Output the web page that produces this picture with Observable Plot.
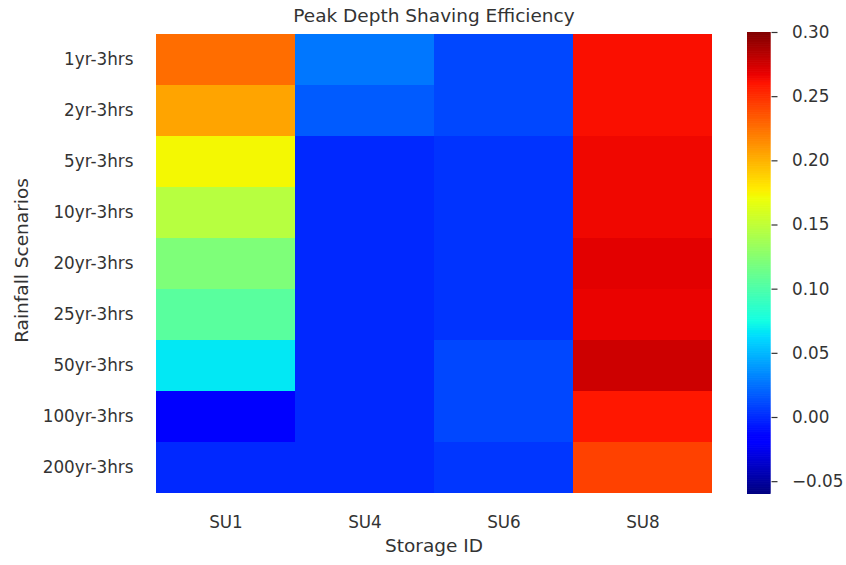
<!DOCTYPE html>
<html>
<head>
<meta charset="utf-8">
<script src="https://cdn.jsdelivr.net/npm/d3@7"></script>
<script src="https://cdn.jsdelivr.net/npm/@observablehq/plot@0.6"></script>
<style>
  html, body { margin: 0; padding: 0; background: #fff; }
  #chart { position: relative; width: 846px; height: 565px; font-family: "DejaVu Sans", sans-serif; }
  #chart svg { position: absolute; top: 0; overflow: visible; }
</style>
</head>
<body>
<div id="chart"></div>
<script>
// Rainfall scenarios (rows) and storage units (columns)
const scenarios = ["1yr-3hrs", "2yr-3hrs", "5yr-3hrs", "10yr-3hrs", "20yr-3hrs",
                   "25yr-3hrs", "50yr-3hrs", "100yr-3hrs", "200yr-3hrs"];
const storages = ["SU1", "SU4", "SU6", "SU8"];

// Peak depth shaving efficiency per storage unit, one value per scenario
const su1 = [0.226, 0.205, 0.173, 0.146, 0.121, 0.105, 0.067, -0.018, -0.001];
const su4 = [0.027, 0.017, -0.001, -0.001, -0.001, -0.001, -0.001, -0.001, -0.001];
const su6 = [0.010, 0.010, 0.003, 0.003, 0.003, 0.003, 0.010, 0.010, 0.004];
const su8 = [0.262, 0.262, 0.265, 0.265, 0.269, 0.267, 0.276, 0.259, 0.243];

// Colour bar limits and ticks
const colorDomain = [-0.06, 0.30];
const colorTicks = [-0.05, 0.00, 0.05, 0.10, 0.15, 0.20, 0.25, 0.30];

const seriesByStorage = {SU1: su1, SU4: su4, SU6: su6, SU8: su8};
const cells = storages.flatMap(s =>
  scenarios.map((sc, i) => ({storage: s, scenario: sc, value: seriesByStorage[s][i]})));

// "jet" colormap, piecewise-linear segments
function seg(points, t) {
  for (let i = 1; i < points.length; i++) {
    const [x0, y0] = points[i - 1], [x1, y1] = points[i];
    if (t <= x1) return y0 + (y1 - y0) * (t - x0) / (x1 - x0);
  }
  return points[points.length - 1][1];
}
function jet(t) {
  t = Math.max(0, Math.min(1, t));
  const r = seg([[0, 0], [0.35, 0], [0.66, 1], [0.89, 1], [1, 0.5]], t);
  const g = seg([[0, 0], [0.125, 0], [0.375, 1], [0.64, 1], [0.91, 0], [1, 0]], t);
  const b = seg([[0, 0.5], [0.11, 1], [0.34, 1], [0.65, 0], [1, 0]], t);
  return `rgb(${Math.round(r * 255)},${Math.round(g * 255)},${Math.round(b * 255)})`;
}
const colorScale = {type: "linear", domain: colorDomain, interpolate: () => jet, clamp: true};

const textColor = "#333";
const font = "DejaVu Sans, sans-serif";
const tickFont = 16.8;
const labelFont = 18.5;
const W = 846, H = 565;
const mTop = 32, mBottom = 71;

// Heatmap
const heat = Plot.plot({
  width: W,
  height: H,
  marginLeft: 154,
  marginRight: 133,
  marginTop: mTop,
  marginBottom: mBottom,
  style: {fontFamily: font, color: textColor, background: "transparent", overflow: "visible"},
  x: {type: "band", domain: storages, padding: 0},
  y: {type: "band", domain: scenarios, padding: 0},
  color: colorScale,
  marks: [
    Plot.cell(cells, {x: "storage", y: "scenario", fill: "value", inset: 0, shapeRendering: "crispEdges"}),
    Plot.axisX({tickSize: 0, tickPadding: 22, fontSize: tickFont, label: null}),
    Plot.axisY({tickSize: 0, tickPadding: 21, fontSize: tickFont, label: null}),
    Plot.text(["Peak Depth Shaving Efficiency"], {
      frameAnchor: "top", lineAnchor: "bottom", dy: -10.5,
      fontSize: labelFont, fill: textColor
    }),
    Plot.text(["Storage ID"], {
      frameAnchor: "bottom", lineAnchor: "bottom", dy: 57.7,
      fontSize: labelFont, fill: textColor
    }),
    Plot.text(["Rainfall Scenarios"], {
      frameAnchor: "left", textAnchor: "middle", lineAnchor: "bottom", rotate: -90,
      dx: -127, dy: -3, fontSize: labelFont, fill: textColor
    })
  ]
});

// Colour bar drawn as thin stacked rects through the same colour scale
const step = 0.0005;
const bands = d3.range(colorDomain[0], colorDomain[1], step).map(v => ({
  v0: v, v1: Math.min(v + step * 2, colorDomain[1]), mid: v + step / 2
}));
const barLeft = 747;
const bar = Plot.plot({
  width: W - barLeft,
  height: H,
  marginLeft: 0,
  marginRight: W - barLeft - 23.5,
  marginTop: mTop,
  marginBottom: mBottom,
  style: {fontFamily: font, color: textColor, background: "transparent", overflow: "visible"},
  x: {domain: [0, 1], axis: null},
  y: {domain: colorDomain, axis: null},
  color: colorScale,
  marks: [
    Plot.rect(bands, {x1: 0, x2: 1, y1: "v0", y2: "v1", fill: "mid"}),
    Plot.axisY(colorTicks, {anchor: "right", tickSize: 6, tickPadding: 15, fontSize: tickFont,
                            tickFormat: d3.format(".2f"), label: null, strokeWidth: 1.2})
  ]
});
bar.style.left = barLeft + "px";

const root = document.getElementById("chart");
root.appendChild(heat);
root.appendChild(bar);
</script>
</body>
</html>
